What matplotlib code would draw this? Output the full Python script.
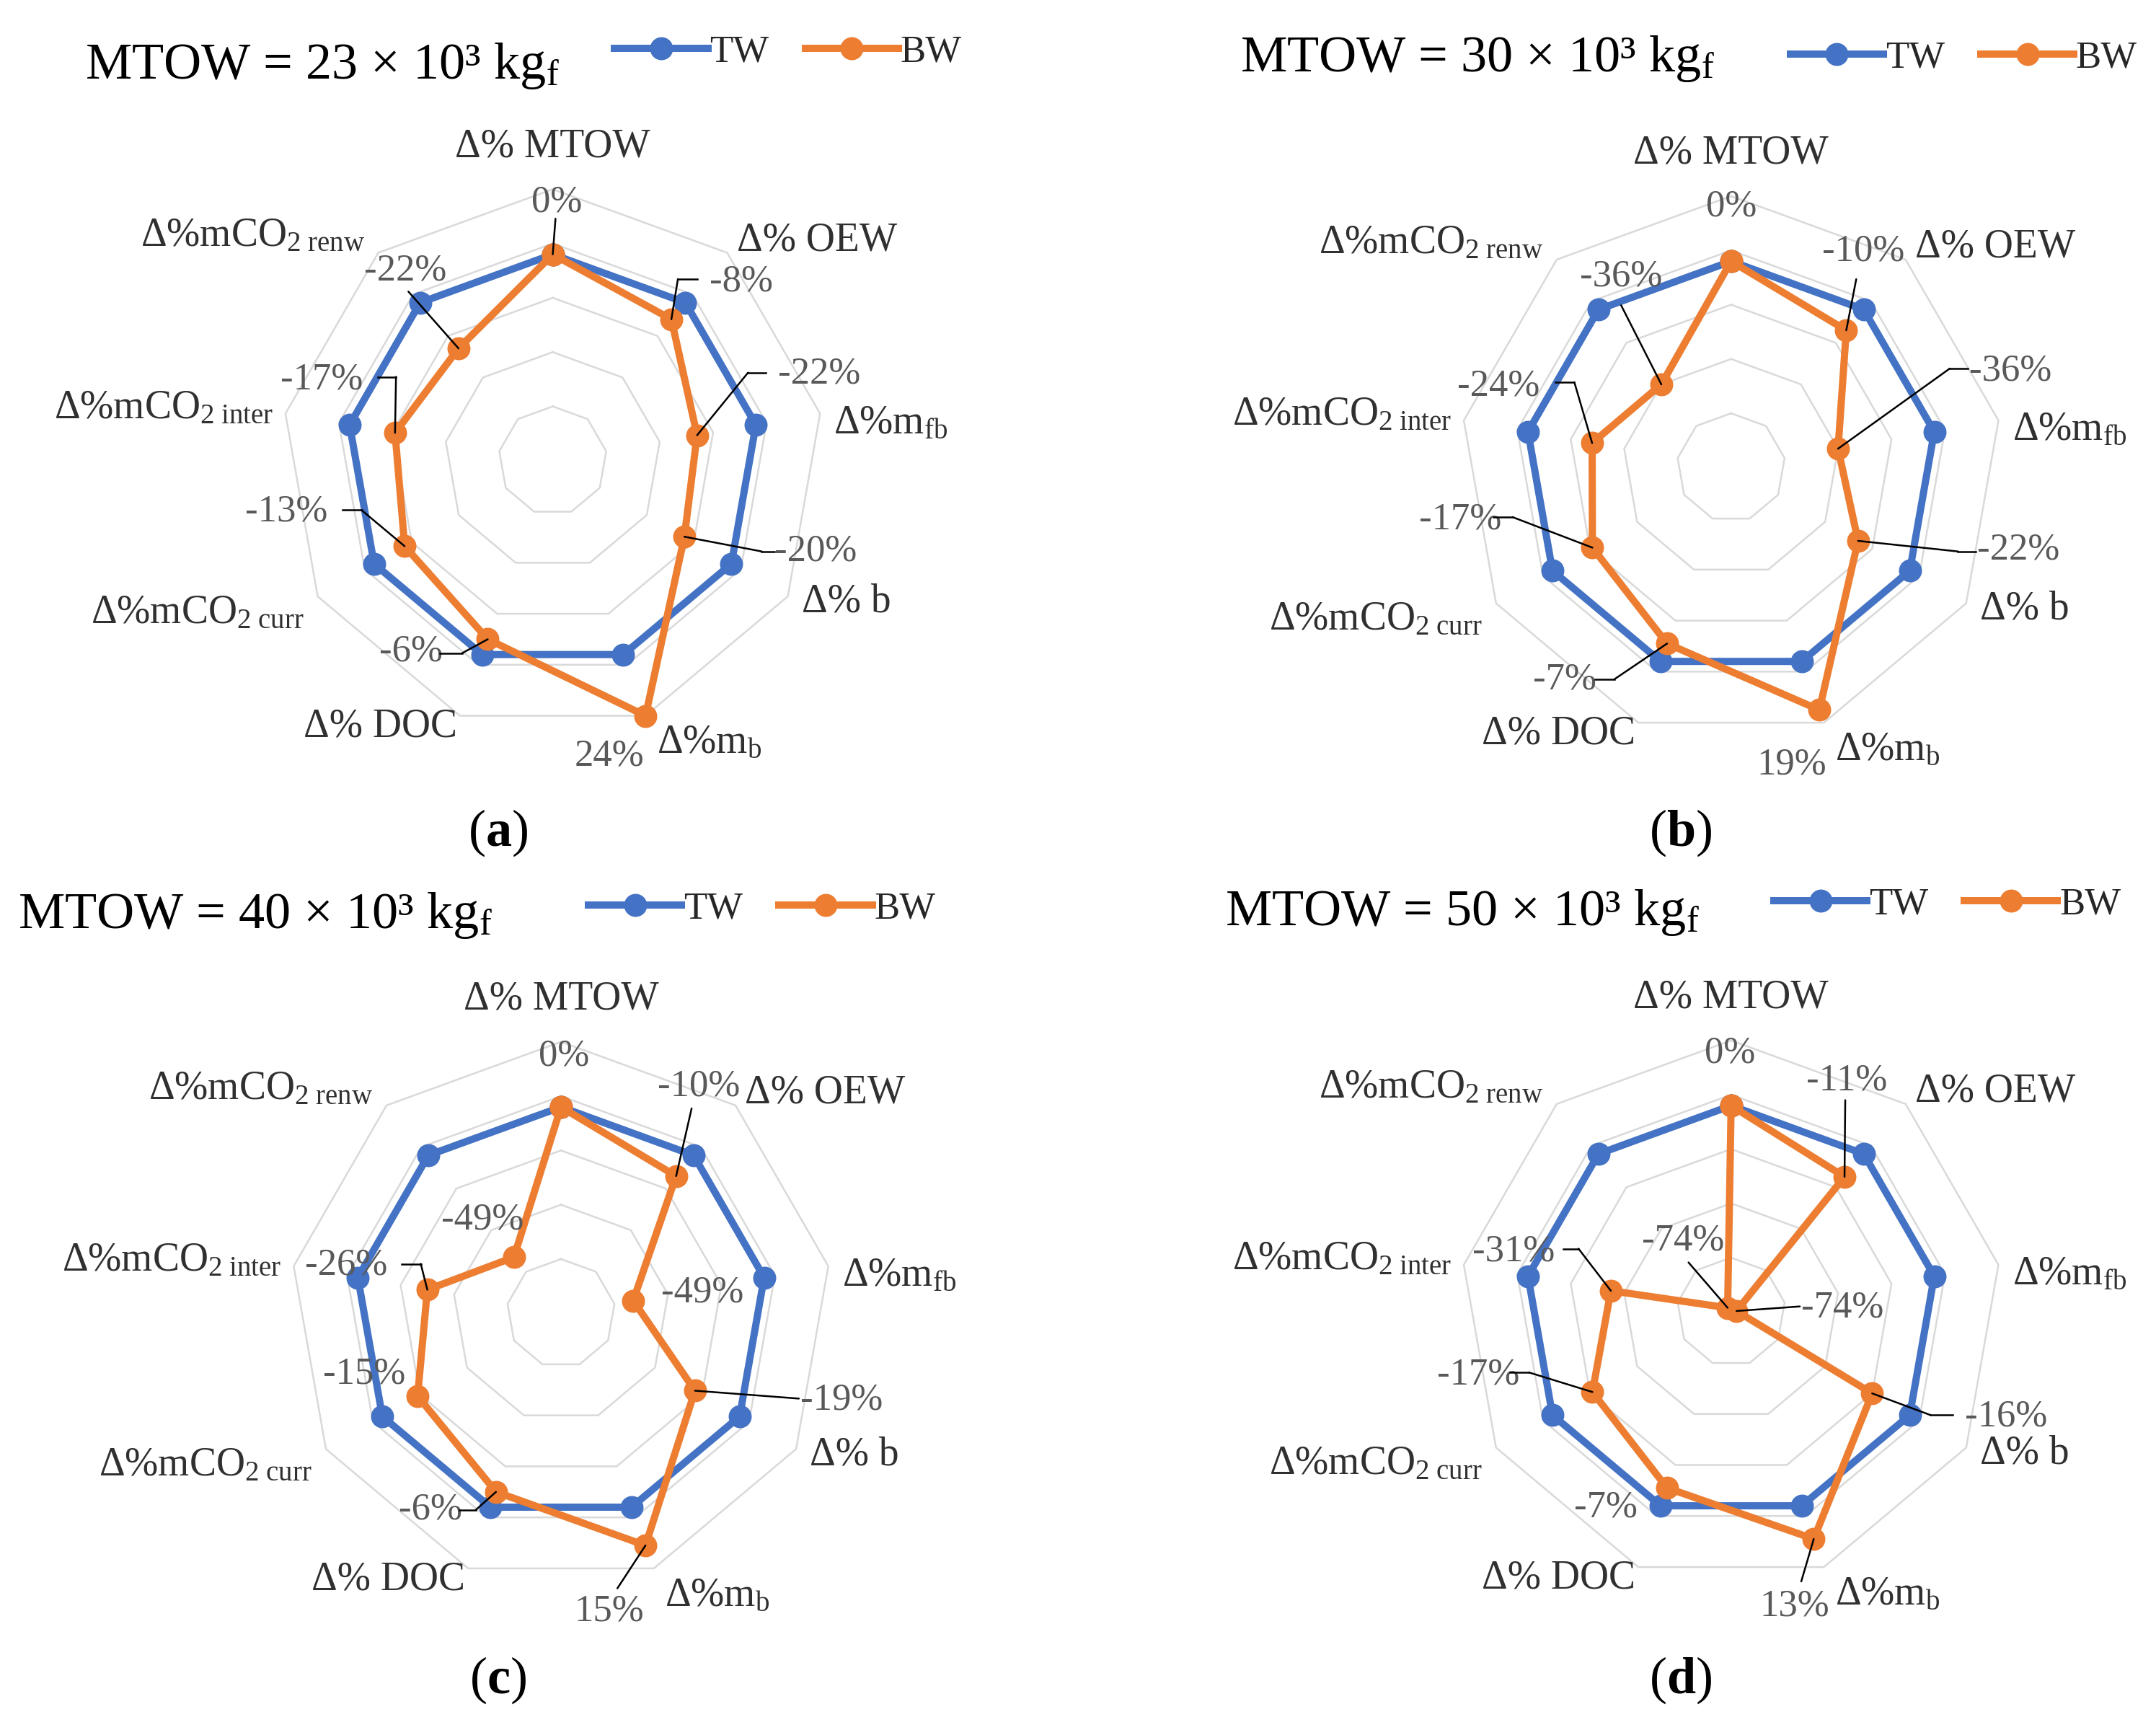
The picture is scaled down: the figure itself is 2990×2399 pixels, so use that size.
import numpy as np
import matplotlib.pyplot as plt
from matplotlib.lines import Line2D

plt.rcParams["font.family"] = ["Liberation Serif", "DejaVu Serif"]
plt.rcParams["mathtext.fontset"] = "custom"
plt.rcParams["mathtext.rm"] = "Liberation Serif"
plt.rcParams["mathtext.it"] = "Liberation Serif:italic"
plt.rcParams["mathtext.bf"] = "Liberation Serif:bold"

# categories, clockwise from the top
categories = [
    "Δ% MTOW",
    "Δ% OEW",
    "Δ%m$_{\\mathrm{fb}}$",
    "Δ% b",
    "Δ%m$_{\\mathrm{b}}$",
    "Δ% DOC",
    "Δ%mCO$_{\\mathrm{2\\ curr}}$",
    "Δ%mCO$_{\\mathrm{2\\ inter}}$",
    "Δ%mCO$_{\\mathrm{2\\ renw}}$",
]

mtow = [23, 30, 40, 50]
panels = ["a", "b", "c", "d"]

# TW is the reference (0 %), BW is the % change
tw_a = [0, 0, 0, 0, 0, 0, 0, 0, 0]
bw_a = [0, -8, -22, -20, 24, -6, -13, -17, -22]
tw_b = [0, 0, 0, 0, 0, 0, 0, 0, 0]
bw_b = [0, -10, -36, -22, 19, -7, -17, -24, -36]
tw_c = [0, 0, 0, 0, 0, 0, 0, 0, 0]
bw_c = [0, -10, -49, -19, 15, -6, -15, -26, -49]
tw_d = [0, 0, 0, 0, 0, 0, 0, 0, 0]
bw_d = [0, -11, -74, -16, 13, -7, -17, -31, -74]

tw_all = [tw_a, tw_b, tw_c, tw_d]
bw_all = [bw_a, bw_b, bw_c, bw_d]

# radial axis (Excel style: centre is the minimum)
R_MIN, R_MAX = -76, 24
rings = [-56, -36, -16, 4, 24]

BLUE = "#4472C4"
ORANGE = "#ED7D31"
GRID = "#D9D9D9"

# layout, measured on a 1568 x 1258 copy of the reference
W_REF, H_REF = 1568, 1258
R_PX = 197.4
centres = [(402, 335), (1259, 340), (408, 955), (1259, 954)]
title_xy = [(62, 57), (902, 52), (13, 675), (891, 673)]
legend_xy = [(447, 38), (1302, 42), (428, 661), (1290, 658)]
panel_xy = [(362, 606), (1222, 606), (362, 1222), (1222, 1222)]

# category label offsets from the outer vertex (ref px, right / up)
cat_off = [(0, 31), (7, 9), (10, -7), (10, -4), (8, -20),
           (-2, -8), (-10, -12), (-9, 4), (-10, 12)]
cat_ha = ["center", "left", "left", "left", "left",
          "right", "right", "right", "right"]

# data label positions (ref px) and leader line start points
lab_xy = [
    [(405, 147), (539, 205), (596, 272), (593, 401), (443, 550),
     (299, 474), (208, 372), (234, 276), (295, 197)],
    [(1259, 150), (1355, 183), (1462, 270), (1468, 400), (1303, 556),
     (1138, 494), (1062, 378), (1090, 281), (1179, 201)],
    [(410, 768), (508, 790), (511, 940), (612, 1018), (443, 1172),
     (313, 1098), (265, 999), (252, 920), (351, 887)],
    [(1258, 766), (1343, 786), (1340, 951), (1459, 1030), (1305, 1168),
     (1168, 1096), (1075, 1000), (1101, 910), (1224, 902)],
]
leaders = [
    [[(404, 159)], [(507, 203), (493, 203)], [(557, 271), (544, 271)],
     [(563, 401), (554, 401)], None, [(320, 475), (336, 475)],
     [(249, 371), (263, 371)], [(275, 274), (288, 274)], [(297, 212)]],
    [None, [(1350, 203)], [(1431, 268), (1418, 268)], [(1437, 401), (1424, 401)],
     None, [(1160, 494), (1174, 494)], [(1086, 376), (1100, 376)],
     [(1131, 278), (1145, 278)], [(1179, 222)]],
    [None, [(503, 806)], None, [(581, 1017)], [(449, 1155)],
     [(334, 1098), (346, 1098)], None, [(292, 919), (306, 919)], None],
    [None, [(1342, 800)], [(1309, 950)], [(1420, 1029), (1404, 1029)],
     [(1310, 1150)], None, [(1098, 998), (1112, 998)],
     [(1137, 908), (1148, 908)], [(1228, 918)]],
]


def fpos(x, y):
    return x / W_REF, 1 - y / H_REF


PT = 2990 / W_REF * 72 / 200  # ref px -> points

fig = plt.figure(figsize=(14.95, 11.995), dpi=200)

theta = np.linspace(0, 2 * np.pi, len(categories), endpoint=False)
theta_c = np.append(theta, theta[0])

for i in range(4):
    cx, cy = centres[i]
    x0, y0 = fpos(cx - R_PX, cy + R_PX)
    ax = fig.add_axes([x0, y0, 2 * R_PX / W_REF, 2 * R_PX / H_REF],
                      projection="polar")
    ax.set_theta_zero_location("N")
    ax.set_theta_direction(-1)
    ax.set_ylim(R_MIN, R_MAX)
    ax.set_axis_off()

    for v in rings:
        ax.plot(theta_c, [v] * len(theta_c), color=GRID, lw=0.9,
                zorder=1, clip_on=False)

    tw = tw_all[i]
    bw = bw_all[i]
    ax.plot(theta_c, tw + tw[:1], color=BLUE, lw=3.6, marker="o", ms=10.5,
            zorder=3, clip_on=False, label="TW")
    ax.plot(theta_c, bw + bw[:1], color=ORANGE, lw=3.6, marker="o", ms=10.5,
            zorder=4, clip_on=False, label="BW")

    # category labels
    for k, name in enumerate(categories):
        dx, dy = cat_off[k]
        ax.annotate(name, xy=(theta[k], R_MAX), xytext=(dx * PT, dy * PT),
                    textcoords="offset points", ha=cat_ha[k], va="center",
                    fontsize=20, color="#303030", annotation_clip=False)

    # data labels with leader lines
    for k, v in enumerate(bw):
        lx, ly = lab_xy[i][k]
        fig.text(*fpos(lx, ly), f"{v}%", ha="center", va="center",
                 fontsize=19, color="#595959")
        lead = leaders[i][k]
        if lead is None:
            continue
        if len(lead) == 2:
            (ax1, ay1), (ax2, ay2) = lead
            p1, p2 = fpos(ax1, ay1), fpos(ax2, ay2)
            fig.add_artist(Line2D([p1[0], p2[0]], [p1[1], p2[1]],
                                  color="black", lw=0.9, zorder=6))
        start = fpos(*lead[-1])
        ax.annotate("", xy=(theta[k], v), xycoords="data",
                    xytext=start, textcoords="figure fraction",
                    arrowprops=dict(arrowstyle="-", color="black", lw=0.9,
                                    shrinkA=0, shrinkB=0),
                    annotation_clip=False, zorder=6)

    fig.text(*fpos(*title_xy[i]),
             f"MTOW = {mtow[i]} × 10³ kg$_{{\\mathrm{{f}}}}$",
             ha="left", va="baseline", fontsize=26, color="black")

    lx, ly = fpos(*legend_xy[i])
    ax.legend(loc="center left", bbox_to_anchor=(lx, ly),
              bbox_transform=fig.transFigure, ncol=2, frameon=False,
              fontsize=19, handlelength=2.45, handletextpad=0.05,
              columnspacing=0.95, borderpad=0, borderaxespad=0,
              labelcolor="#262626")

    fig.text(*fpos(*panel_xy[i]), f"($\\mathbf{{{panels[i]}}}$)",
             ha="center", va="center", fontsize=26, color="black")

fig.savefig("out.png", dpi=200, facecolor="white")
